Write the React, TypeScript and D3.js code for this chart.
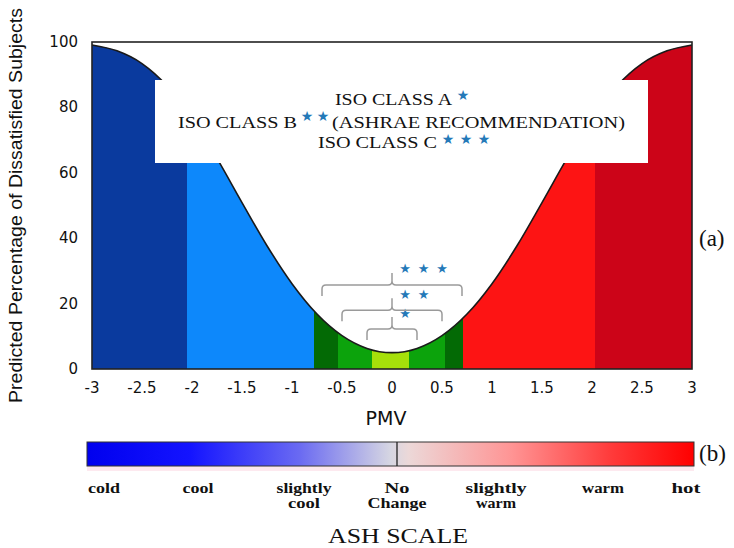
import React from "react";
import * as d3 from "d3";

// PMV vs PPD curve
const pmvValues = [-3, -2.75, -2.5, -2.25, -2, -1.75, -1.5, -1.25, -1, -0.75, -0.5, -0.25, 0, 0.25, 0.5, 0.75, 1, 1.25, 1.5, 1.75, 2, 2.25, 2.5, 2.75, 3];
const ppdValues = [99.1, 97.3, 93.4, 86.6, 76.8, 64.4, 50.9, 37.7, 26.1, 16.8, 10.2, 6.3, 5, 6.3, 10.2, 16.8, 26.1, 37.7, 50.9, 64.4, 76.8, 86.6, 93.4, 97.3, 99.1];

// coloured PMV bands
const bandEdges = [-3, -2.05, -0.78, -0.54, -0.2, 0.17, 0.53, 0.71, 2.03, 3];
const bandColors = ["#0a3a9e", "#0d88fb", "#036a05", "#0ca30c", "#a6e00a", "#0ca30c", "#036a05", "#fd1414", "#cc0418"];

// axes
const xTicks = [-3, -2.5, -2, -1.5, -1, -0.5, 0, 0.5, 1, 1.5, 2, 2.5, 3];
const xTickLabels = ["-3", "-2.5", "-2", "-1.5", "-1", "-0.5", "0", "0.5", "1", "1.5", "2", "2.5", "3"];
const yTicks = [0, 20, 40, 60, 80, 100];

// ISO class brackets
const bracketHalfWidth = [0.25, 0.5, 0.7];
const bracketLevel = [12.2, 18, 25.7];
const bracketStars = [1, 2, 3];

// ASH scale labels
const ashLine1 = ["cold", "cool", "slightly", "No", "slightly", "warm", "hot"];
const ashLine2 = ["", "", "cool", "Change", "warm", "", ""];

export default function App() {
  const x = d3.scaleLinear().domain([-3, 3]).range([92, 692]);
  const y = d3.scaleLinear().domain([0, 100]).range([369, 42]);
  const pts: [number, number][] = pmvValues.map((p, i) => [p, ppdValues[i]]);
  const area = d3.area<[number, number]>().x((d) => x(d[0])).y0(y(0)).y1((d) => y(d[1])).curve(d3.curveMonotoneX);
  const line = d3.line<[number, number]>().x((d) => x(d[0])).y((d) => y(d[1])).curve(d3.curveMonotoneX);

  const serif = "'Liberation Serif', 'Times New Roman', serif";
  const sans = "'DejaVu Sans', sans-serif";
  const starColor = "#2479b8";

  // ASH label layout (pixels)
  const ashCenters = [104, 198, 304, 397, 496, 603, 686];
  const ashW1 = [32, 31, 55, 25, 61, 42, 29];
  const ashW2 = [0, 0, 32, 59, 40, 0, 0];

  const bracketPath = (hw: number, lvl: number) => {
    const x1 = x(-hw), x2 = x(hw), xc = x(0), yy = y(lvl);
    const r = 4;
    return `M${x1},${yy + 11} L${x1},${yy + r} Q${x1},${yy} ${x1 + r},${yy} L${xc - r},${yy} Q${xc},${yy} ${xc},${yy - r} L${xc},${yy - 12} M${xc},${yy - r} Q${xc},${yy} ${xc + r},${yy} L${x2 - r},${yy} Q${x2},${yy} ${x2},${yy + r} L${x2},${yy + 11}`;
  };

  return (
    <svg width={734} height={548} style={{ position: "absolute", left: 0, top: 0, background: "#fff" }}>
      <defs>
        <clipPath id="ppdClip">
          <path d={area(pts) || ""} />
        </clipPath>
        <linearGradient id="ashGrad" x1="0" x2="1" y1="0" y2="0">
          <stop offset="0" stopColor="#0000ee" />
          <stop offset="0.17" stopColor="#1414ff" />
          <stop offset="0.35" stopColor="#6a6af2" />
          <stop offset="0.5" stopColor="#d6d6e2" />
          <stop offset="0.53" stopColor="#ecd8d8" />
          <stop offset="0.7" stopColor="#ff9494" />
          <stop offset="0.86" stopColor="#ff3c3c" />
          <stop offset="1" stopColor="#ff0000" />
        </linearGradient>
      </defs>

      {/* bands clipped by the PPD area */}
      <g clipPath="url(#ppdClip)">
        {bandColors.map((c, i) => (
          <rect key={i} x={x(bandEdges[i])} y={y(100)} width={x(bandEdges[i + 1]) - x(bandEdges[i]) + 0.5} height={y(0) - y(100)} fill={c} />
        ))}
      </g>
      <path d={line(pts) || ""} fill="none" stroke="#1a1a1a" strokeWidth={1.6} />

      {/* frame */}
      <rect x={x(-3)} y={y(100)} width={x(3) - x(-3)} height={y(0) - y(100)} fill="none" stroke="#222" strokeWidth={1.6} />

      {/* white legend box */}
      <rect x={155} y={80} width={493} height={83} fill="#fff" />
      <text x={335} y={105} fontFamily={serif} fontSize={17} textLength={117} lengthAdjust="spacingAndGlyphs" fill="#111">ISO CLASS A</text>
      <text x={463} y={95} fontFamily={sans} fontSize={14} fill={starColor} textAnchor="middle" dominantBaseline="central">★</text>
      <text x={178} y={128} fontFamily={serif} fontSize={17} textLength={119} lengthAdjust="spacingAndGlyphs" fill="#111">ISO CLASS B</text>
      {[307, 323].map((cx, i) => (
        <text key={i} x={cx} y={116} fontFamily={sans} fontSize={14} fill={starColor} textAnchor="middle" dominantBaseline="central">★</text>
      ))}
      <text x={332} y={128} fontFamily={serif} fontSize={17} textLength={293} lengthAdjust="spacingAndGlyphs" fill="#111">(ASHRAE  RECOMMENDATION)</text>
      <text x={318} y={148} fontFamily={serif} fontSize={17} textLength={119} lengthAdjust="spacingAndGlyphs" fill="#111">ISO CLASS C</text>
      {[448, 466, 484].map((cx, i) => (
        <text key={i} x={cx} y={139} fontFamily={sans} fontSize={14} fill={starColor} textAnchor="middle" dominantBaseline="central">★</text>
      ))}

      {/* brackets */}
      {bracketHalfWidth.map((hw, i) => (
        <g key={i}>
          <path d={bracketPath(hw, bracketLevel[i])} fill="none" stroke="#9a9a9a" strokeWidth={1.5} />
          {d3.range(bracketStars[i]).map((k) => (
            <text key={k} x={x(0.13) + k * 18.5} y={y(bracketLevel[i]) - 16} fontFamily={sans} fontSize={13} fill={starColor} textAnchor="middle" dominantBaseline="central">★</text>
          ))}
        </g>
      ))}

      {/* axes labels */}
      {yTicks.map((v) => (
        <text key={v} x={78} y={y(v)} fontFamily={sans} fontSize={15} textAnchor="end" dominantBaseline="central" fill="#111">{v}</text>
      ))}
      {xTicks.map((v, i) => (
        <text key={v} x={x(v)} y={393} fontFamily={sans} fontSize={15} textAnchor="middle" fill="#111">{xTickLabels[i]}</text>
      ))}
      <text x={386} y={425} fontFamily={sans} fontSize={19} textAnchor="middle" fill="#111">PMV</text>
      <text transform="translate(22,205.5) rotate(-90)" fontFamily="'Liberation Sans', Arial, sans-serif" fontSize={17.5} textAnchor="middle" textLength={395} lengthAdjust="spacingAndGlyphs" fill="#111">Predicted Percentage of Dissatisfied Subjects</text>
      <text x={699} y={246} fontFamily={serif} fontSize={23} fill="#111">(a)</text>

      {/* ASH scale bar */}
      <rect x={87} y={466} width={607} height={5} fill="#fde9ef" />
      <rect x={87} y={442} width={607} height={24} fill="url(#ashGrad)" stroke="#333" strokeWidth={1} />
      <line x1={397} x2={397} y1={442} y2={466} stroke="#222" strokeWidth={1.3} />
      <text x={699} y={461} fontFamily={serif} fontSize={23} fill="#111">(b)</text>
      {ashLine1.map((t, i) => (
        <text key={"a" + i} x={ashCenters[i]} y={493} fontFamily={serif} fontWeight="bold" fontSize={14} textAnchor="middle" textLength={ashW1[i]} lengthAdjust="spacingAndGlyphs" fill="#111">{t}</text>
      ))}
      {ashLine2.map((t, i) => t ? (
        <text key={"b" + i} x={ashCenters[i]} y={508} fontFamily={serif} fontWeight="bold" fontSize={14} textAnchor="middle" textLength={ashW2[i]} lengthAdjust="spacingAndGlyphs" fill="#111">{t}</text>
      ) : null)}
      <text x={398} y={543} fontFamily={serif} fontSize={20} textAnchor="middle" textLength={140} lengthAdjust="spacingAndGlyphs" fill="#111">ASH SCALE</text>
    </svg>
  );
}
